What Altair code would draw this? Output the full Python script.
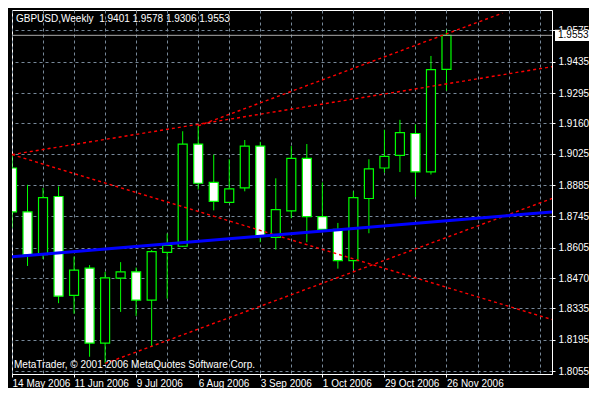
import altair as alt
import pandas as pd

symbol_text = "GBPUSD,Weekly \u00a01.9401 1.9578 1.9306 1.9553"
copyright_text = "MetaTrader, © 2001-2006 MetaQuotes Software Corp."

# weekly candles, week 0 = 14 May 2006
opens = [1.8961, 1.8765, 1.8574, 1.8834, 1.8393, 1.8514, 1.8180, 1.8470, 1.8498, 1.8372,
         1.8585, 1.8612, 1.9068, 1.8897, 1.8808, 1.8872, 1.9059, 1.8652, 1.8770, 1.9004,
         1.8744, 1.8687, 1.8548, 1.8825, 1.8961, 1.9017, 1.9115, 1.8944, 1.9401]
highs = [1.9021, 1.8886, 1.8872, 1.8879, 1.8566, 1.8528, 1.8498, 1.8541, 1.8517, 1.8595,
         1.8669, 1.9125, 1.9149, 1.9021, 1.9000, 1.9086, 1.9078, 1.8915, 1.9059, 1.9068,
         1.8897, 1.8716, 1.8857, 1.9000, 1.9132, 1.9176, 1.9156, 1.9461, 1.9578]
lows = [1.8694, 1.8524, 1.8555, 1.8358, 1.8311, 1.8119, 1.8089, 1.8319, 1.8301, 1.8164,
        1.8378, 1.8609, 1.8865, 1.8772, 1.8807, 1.8857, 1.8630, 1.8597, 1.8737, 1.8630,
        1.8685, 1.8512, 1.8509, 1.8670, 1.8940, 1.8943, 1.8832, 1.8932, 1.9306]
closes = [1.8765, 1.8574, 1.8829, 1.8389, 1.8505, 1.8180, 1.8471, 1.8498, 1.8372, 1.8588,
          1.8616, 1.9068, 1.8893, 1.8812, 1.8868, 1.9059, 1.8659, 1.8775, 1.9004, 1.8744,
          1.8687, 1.8548, 1.8829, 1.8957, 1.9013, 1.9119, 1.8944, 1.9400, 1.9553]

# one label every 4 weeks
date_labels = ["14 May 2006", "11 Jun 2006", "9 Jul 2006", "6 Aug 2006",
               "3 Sep 2006", "1 Oct 2006", "29 Oct 2006", "26 Nov 2006"]
price_ticks = [1.8055, 1.8195, 1.8335, 1.8470, 1.8605, 1.8745, 1.8885,
               1.9025, 1.9160, 1.9295, 1.9435, 1.9575]

# trendlines: (weeks, prices)
blue_weeks, blue_prices = [0, 34.8], [1.8565, 1.8765]
red_weeks = {"a": [0, 34.8], "b": [12, 31.6], "c": [0, 34.8], "d": [6, 34.8]}
red_prices = {"a": [1.9021, 1.9413], "b": [1.9149, 1.9652],
              "c": [1.9021, 1.8285], "d": [1.8089, 1.8825]}

W, H = 540, 364
LIME, GRID = "#00FF00", "#778899"
FONT = "Liberation Sans"

candles = pd.DataFrame({"week": range(len(opens)), "open": opens, "high": highs,
                        "low": lows, "close": closes})

red_df = pd.DataFrame([
    {"id": k, "week": w, "price": p}
    for k in red_weeks for w, p in zip(red_weeks[k], red_prices[k])
])
blue_df = pd.DataFrame({"week": blue_weeks, "price": blue_prices})
last_df = pd.DataFrame({"price": [closes[-1]], "label": [f"{closes[-1]:.4f}"]})

xscale = alt.Scale(domain=[0, 34.8], nice=False, zero=False, padding=0)
yscale = alt.Scale(domain=[1.8042, 1.9666], nice=False, zero=False)

labels_js = "[" + ",".join(f"'{s}'" for s in date_labels) + "]"
x_axis = alt.Axis(
    values=list(range(0, 35, 2)), title=None, grid=True, gridColor=GRID, gridDash=[3, 3],
    labelExpr=f"datum.value % 4 == 0 && datum.value <= 28 ? {labels_js}[datum.value / 4] : ''",
    labelAlign="left", labelFlush=False, labelOverlap=False, labelPadding=1,
    tickSize=3,
    tickOpacity={"condition": {"test": "datum.value % 4 == 0 && datum.value <= 28", "value": 1}, "value": 0},
)
y_axis = alt.Axis(
    values=price_ticks, format=".4f", title=None, orient="right", grid=True,
    gridColor=GRID, gridDash=[3, 3], tickSize=3, labelPadding=3, labelOverlap=False,
    labelFlush=False,
)


def X(field):
    return alt.X(field, type="quantitative", scale=xscale, axis=x_axis)


def Y(field):
    return alt.Y(field, type="quantitative", scale=yscale, axis=y_axis)


wicks = alt.Chart(candles).mark_rule(color=LIME, strokeWidth=1, clip=True).encode(
    x=X("week"), y=Y("low"), y2="high"
)
bodies = alt.Chart(candles).mark_bar(size=9, stroke=LIME, strokeWidth=1.2, clip=True).encode(
    x=X("week"), y=Y("open"), y2="close",
    fill=alt.condition("datum.close >= datum.open", alt.value("black"), alt.value("white")),
)
bid = alt.Chart(last_df).mark_rule(color="#A9A9A9", strokeWidth=1, clip=True).encode(y=Y("price"))
reds = alt.Chart(red_df).mark_line(color="#FF0000", strokeWidth=1.4, strokeDash=[3, 3], clip=True).encode(
    x=X("week"), y=Y("price"), detail="id"
)
blue = alt.Chart(blue_df).mark_line(color="#0000FF", strokeWidth=3, clip=True).encode(
    x=X("week"), y=Y("price")
)

box = alt.Chart(last_df).mark_rect(color="white").encode(
    x=alt.value(W + 3), x2=alt.value(W + 37),
    y=Y("top"), y2="bottom:Q",
).transform_calculate(top="datum.price + 0.0025", bottom="datum.price - 0.0025")
box_text = alt.Chart(last_df).mark_text(
    align="left", baseline="middle", color="black", font=FONT, fontSize=10
).encode(x=alt.value(W + 6), y=Y("price"), text="label:N")

title_text = alt.Chart(pd.DataFrame({"t": [symbol_text]})).mark_text(
    align="left", baseline="middle", color="white", font=FONT, fontSize=10
).encode(x=alt.value(4), y=alt.value(9), text="t:N")
copy_text = alt.Chart(pd.DataFrame({"t": [copyright_text]})).mark_text(
    align="left", baseline="middle", color="white", font=FONT, fontSize=10
).encode(x=alt.value(2), y=alt.value(H - 9), text="t:N")

chart = alt.layer(
    wicks, bodies, bid, reds, blue, box, box_text, title_text, copy_text
).properties(
    width=W, height=H, background="black",
    padding={"left": 3, "top": 2, "right": 0, "bottom": 0},
).configure_view(
    stroke="white", strokeWidth=1
).configure_axis(
    domainColor="white", tickColor="white", labelColor="white",
    labelFont=FONT, labelFontSize=10, gridWidth=1,
)

chart.save("out.html", embed_options={"renderer": "svg", "actions": False})
